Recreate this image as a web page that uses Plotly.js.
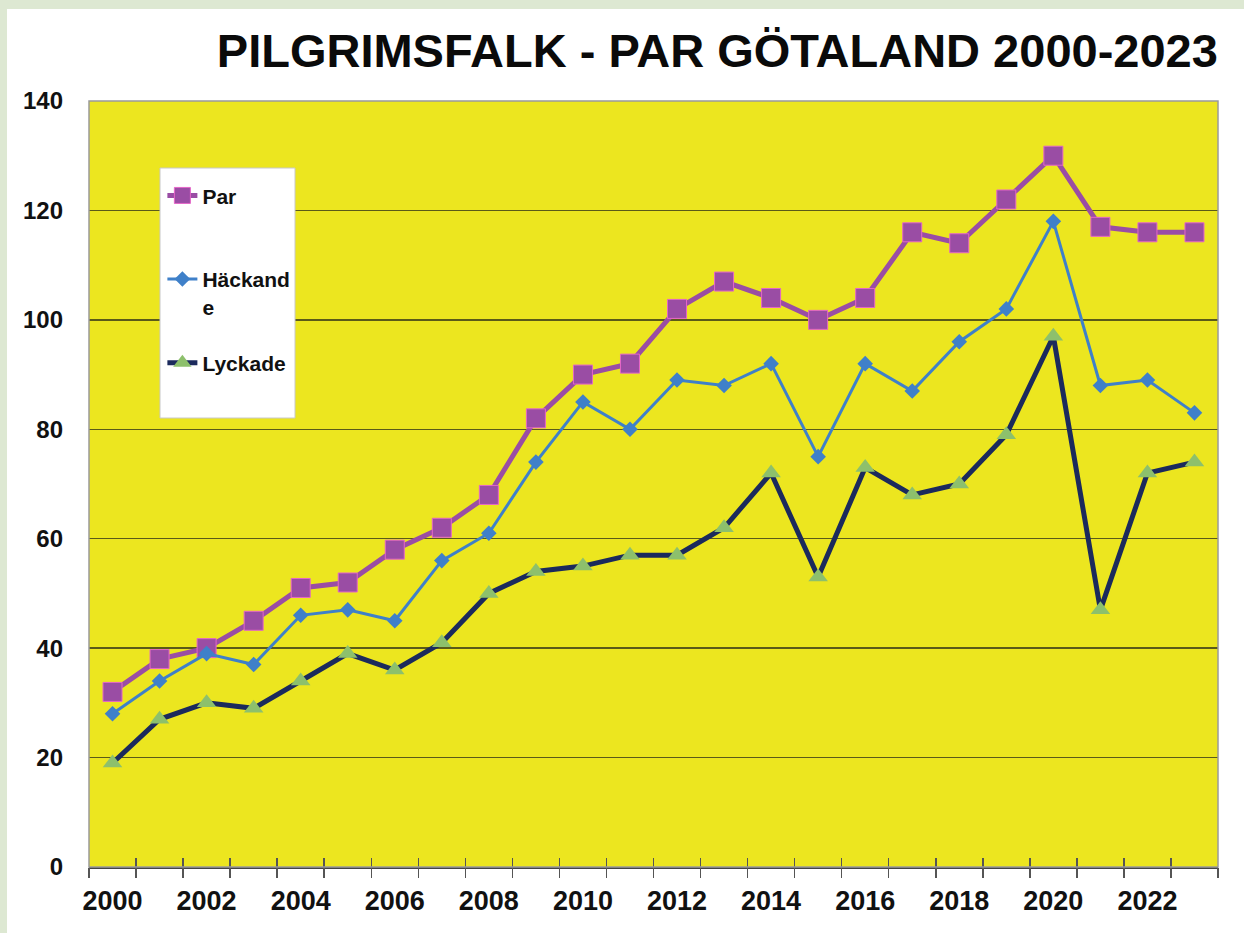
<!DOCTYPE html>
<html>
<head>
<meta charset="utf-8">
<script src="https://cdn.plot.ly/plotly-3.0.1.min.js"></script>
<style>
html,body{margin:0;padding:0;background:#fff;}
#chart{width:1244px;height:933px;}
</style>
</head>
<body>
<div id="chart"></div>
<script>
const years = [2000,2001,2002,2003,2004,2005,2006,2007,2008,2009,2010,2011,2012,2013,2014,2015,2016,2017,2018,2019,2020,2021,2022,2023];
const par = [32,38,40,45,51,52,58,62,68,82,90,92,102,107,104,100,104,116,114,122,130,117,116,116];
const hackande = [28,34,39,37,46,47,45,56,61,74,85,80,89,88,92,75,92,87,96,102,118,88,89,83];
const lyckade = [19,27,30,29,34,39,36,41,50,54,55,57,57,62,72,53,73,68,70,79,97,47,72,74];
const xTickLabels = ["2000","2002","2004","2006","2008","2010","2012","2014","2016","2018","2020","2022"];
const xTickVals = xTickLabels.map(Number);
const yTickVals = [0,20,40,60,80,100,120,140];
const boundaries = [years[0]-0.5].concat(years.map(y=>y+0.5));

const font = "Liberation Sans, Arial, sans-serif";

const traces = [
  {x: years, y: par, name: "<b>Par</b><br>\u00a0", type: "scatter", mode: "lines+markers",
   legendgroup: "a",
   line: {color: "#9A4DA4", width: 5},
   marker: {symbol: "square", size: 19, color: "#9A4DA4", line: {color: "#E566C8", width: 1}}},
  {x: years, y: hackande, name: "<b>Häckand</b><br><b>e</b>", type: "scatter", mode: "lines+markers",
   legendgroup: "b",
   line: {color: "#3F80C9", width: 3},
   marker: {symbol: "diamond", size: 12, color: "#3F80C9"}},
  {x: years, y: lyckade, name: "<b>Lyckade</b>", type: "scatter", mode: "lines+markers",
   legendgroup: "c",
   line: {color: "#1B2A5C", width: 5},
   marker: {symbol: "triangle-up", size: 17, color: "#8DC06C"}},
  {x: [], y: [], xaxis: "x2", showlegend: false, type: "scatter"},
  {x: [], y: [], xaxis: "x3", showlegend: false, type: "scatter"}
];

const layout = {
  width: 1244, height: 933,
  margin: {l: 89, r: 26, t: 101, b: 66},
  paper_bgcolor: "#FFFFFF",
  plot_bgcolor: "#ECE61F",
  font: {family: font, color: "#111"},
  title: {text: "<b>PILGRIMSFALK - PAR GÖTALAND 2000-2023</b>",
          font: {family: font, size: 47, color: "#0a0a0a"},
          x: 0.979, xref: "container", xanchor: "right",
          y: 0.946, yref: "container", yanchor: "middle"},
  showlegend: true,
  legend: {x: 0.065, y: 0.903, xanchor: "left", yanchor: "top",
           bgcolor: "rgba(0,0,0,0)", borderwidth: 0,
           traceorder: "grouped", tracegroupgap: 26, valign: "top",
           font: {family: font, size: 21, color: "#111"},
           itemwidth: 30},
  xaxis: {
    range: [1999.5, 2023.5], tickmode: "array", tickvals: boundaries,
    ticks: "inside", ticklen: 9, tickcolor: "#555", tickwidth: 1.5,
    showticklabels: false, showgrid: false, zeroline: false,
    showline: true, linecolor: "#444", linewidth: 1.5
  },
  xaxis2: {
    overlaying: "x", side: "bottom", range: [1999.5, 2023.5],
    tickmode: "array", tickvals: xTickVals, ticktext: xTickLabels.map(t=>"<b>"+t+"</b>"),
    ticks: "", showgrid: false, zeroline: false, showline: false,
    tickfont: {family: font, size: 27, color: "#111"},
    ticklabelstandoff: 15
  },
  xaxis3: {
    overlaying: "x", side: "bottom", range: [1999.5, 2023.5],
    tickmode: "array", tickvals: boundaries, ticks: "outside", ticklen: 10, tickcolor: "#555", tickwidth: 1.5,
    showticklabels: false, showgrid: false, zeroline: false, showline: false
  },
  yaxis: {
    range: [0, 140], tickmode: "array", tickvals: yTickVals, ticktext: yTickVals.map(v=>"<b>"+v+"</b>"),
    ticks: "", showgrid: true, gridcolor: "#5A5A18", gridwidth: 1.5, zeroline: false,
    showline: false,
    tickfont: {family: font, size: 24, color: "#111"},
    ticklabelstandoff: 25
  },
  shapes: []
};

const pw = 1244 - 89 - 26, ph = 933 - 101 - 66;
const px = v => (v - 89) / pw;
const py = v => (101 + ph - v) / ph;
layout.shapes.push({type: "rect", xref: "paper", yref: "paper", x0: 0, x1: 1, y0: 0, y1: 1,
  line: {color: "#9A9A9A", width: 1.5}, fillcolor: "rgba(0,0,0,0)", layer: "above"});
// legend box
layout.shapes.push({type: "rect", xref: "paper", yref: "paper", x0: px(160), x1: px(295), y0: py(418), y1: py(168),
  line: {color: "#C8C8C8", width: 1}, fillcolor: "#FFFFFF", layer: "above"});
// outer light-green frame (left and top)
layout.shapes.push({type: "rect", xref: "paper", yref: "paper", x0: px(0), x1: px(7), y0: py(933), y1: py(0),
  line: {width: 0}, fillcolor: "#DDE8D2", layer: "below"});
layout.shapes.push({type: "rect", xref: "paper", yref: "paper", x0: px(0), x1: px(1244), y0: py(9), y1: py(0),
  line: {width: 0}, fillcolor: "#DDE8D2", layer: "below"});

Plotly.newPlot("chart", traces, layout, {displayModeBar: false, staticPlot: true});
</script>
</body>
</html>
